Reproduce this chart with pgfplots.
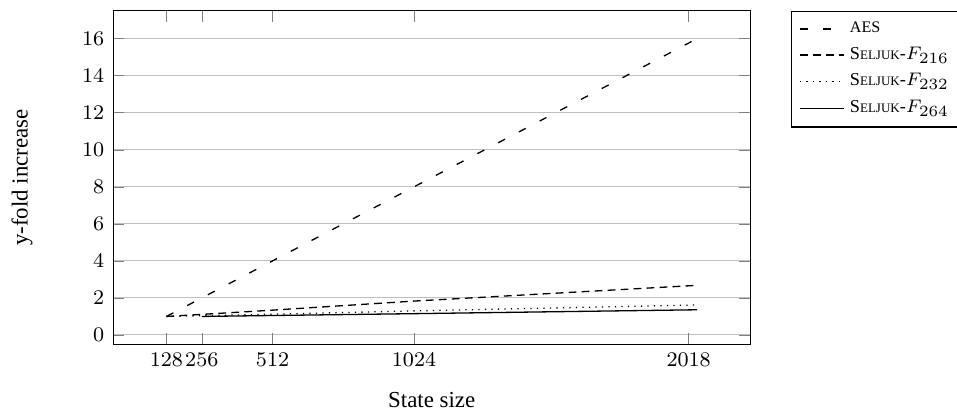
\documentclass[border=0pt]{standalone}
\usepackage{fontspec}
\setmainfont{Liberation Serif}
\usepackage{pgfplots}
\pgfplotsset{compat=1.18}
\DeclareMathSizes{7}{7}{6}{5}
\newcommand{\fsc}[1]{{\fontsize{5}{6}\selectfont #1}}
\begin{document}
\begin{tikzpicture}
\begin{axis}[
  scale only axis,
  width=244.9pt, height=128.2pt,
  xtick={128,256,512,1024,2018},
  ytick={0,2,4,6,8,10,12,14,16},
  /pgf/number format/1000 sep={},
  ymajorgrids,
  tick label style={font=\fontsize{8}{9.6}\selectfont},
  xlabel={State size},
  ylabel={y-fold increase},
  label style={font=\fontsize{8.8}{10.5}\selectfont},
  xlabel style={at={(axis description cs:0.5,0)}, anchor=base, yshift=-24.4pt},
  ylabel style={at={(axis description cs:-0.1434,0.5)}, anchor=center},
  legend style={at={(axis description cs:1.0639,1)}, anchor=north west,
    font=\fontsize{7}{8.6}\selectfont, legend cell align=left},
  every axis plot/.append style={line width=0.5pt},
]
\addplot[black, loosely dashed] coordinates {(128,1) (256,2) (512,4) (1024,8) (2048,16)};
\addlegendentry{{\fontsize{6.2}{7}\selectfont AES}}
\addplot[black, densely dashed] coordinates {(128,1) (256,1.11) (512,1.34) (1024,1.83) (2048,2.68)};
\addlegendentry{S\fsc{ELJUK}-$F_{216}$}
\addplot[black, dotted] coordinates {(128,1) (256,1.04) (512,1.12) (1024,1.30) (2048,1.62)};
\addlegendentry{S\fsc{ELJUK}-$F_{232}$}
\addplot[black] coordinates {(256,1) (512,1.05) (1024,1.15) (2048,1.36)};
\addlegendentry{S\fsc{ELJUK}-$F_{264}$}
\end{axis}
\pgfresetboundingbox
\path[use as bounding box] (current axis.south west) ++(-43.6pt,-27.6pt) rectangle ++(368.1pt,160pt);
\end{tikzpicture}
\end{document}
